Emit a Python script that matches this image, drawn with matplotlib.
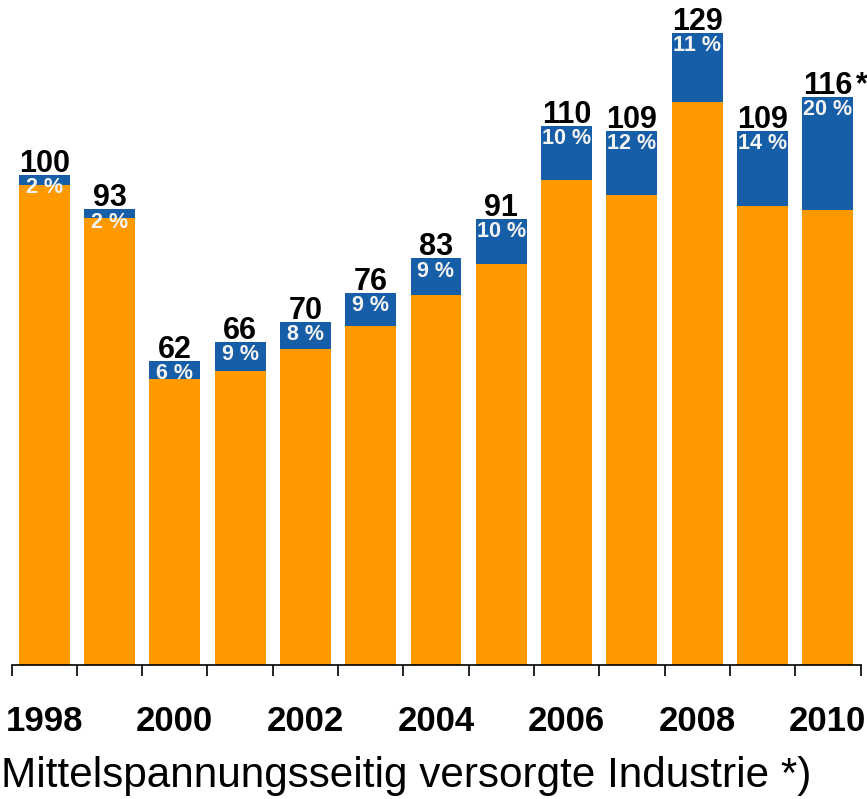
import matplotlib
matplotlib.use("Agg")
import matplotlib.pyplot as plt
import numpy as np

years = [1998, 1999, 2000, 2001, 2002, 2003, 2004, 2005, 2006, 2007, 2008, 2009, 2010]
totals = [100, 93, 62, 66, 70, 76, 83, 91, 110, 109, 129, 109, 116]
shares_pct = [2, 2, 6, 9, 8, 9, 9, 10, 10, 12, 11, 14, 20]
markers = ['', '', '', '', '', '', '', '', '', '', '', '', '*']
year_labels = ['1998', '', '2000', '', '2002', '', '2004', '', '2006', '', '2008', '', '2010']
subtitle = 'Mittelspannungsseitig versorgte Industrie *)'

ORANGE = '#FF9900'
BLUE = '#175EA8'
FONT = ['Liberation Sans', 'DejaVu Sans']
plt.rcParams['font.family'] = FONT

W, H = 867, 799
fig = plt.figure(figsize=(W / 100, H / 100), dpi=100)
base_px = 665
left_px, right_px = 11.5, 860.5
ax = fig.add_axes([left_px / W, (H - base_px) / H, (right_px - left_px) / W, base_px / H])

x = np.arange(len(years))
tot = np.array(totals, dtype=float)
blue = tot * np.array(shares_pct) / 100.0
orange = tot - blue

bw = 0.78
ax.bar(x, orange, width=bw, color=ORANGE, linewidth=0)
ax.bar(x, blue, bottom=orange, width=bw, color=BLUE, linewidth=0)

ax.set_xlim(-0.5, len(years) - 0.5)
ax.set_ylim(0, base_px / 4.9)

for xi, t, p, m in zip(x, totals, shares_pct, markers):
    ax.annotate(str(t), xy=(xi, t), xytext=(0, 2.2), textcoords='offset points',
                ha='center', va='baseline', fontsize=22, fontweight='bold', color='black')
    if m:
        ax.annotate(m, xy=(xi, t), xytext=(20.5, 2.2), textcoords='offset points',
                    ha='left', va='baseline', fontsize=22, fontweight='bold', color='black')
    ax.annotate(f'{p} %', xy=(xi, t), xytext=(0, -1.6), textcoords='offset points',
                ha='center', va='top', fontsize=15.5, fontweight='bold', color='#F4F4F4')

for s in ['left', 'right', 'top']:
    ax.spines[s].set_visible(False)
ax.spines['bottom'].set_linewidth(1.2)
ax.set_yticks([])

ax.set_xticks(x)
ax.set_xticklabels(year_labels, fontsize=25, fontweight='bold')
ax.tick_params(axis='x', which='major', length=0, pad=29)
ax.set_xticks(np.arange(-0.5, len(years)), minor=True)
ax.tick_params(axis='x', which='minor', length=8, width=1.2, color='black')

fig.text(1 / W, (H - 787) / H, subtitle, ha='left', va='baseline', fontsize=30.4, color='black')

fig.savefig('out.png', dpi=100)
